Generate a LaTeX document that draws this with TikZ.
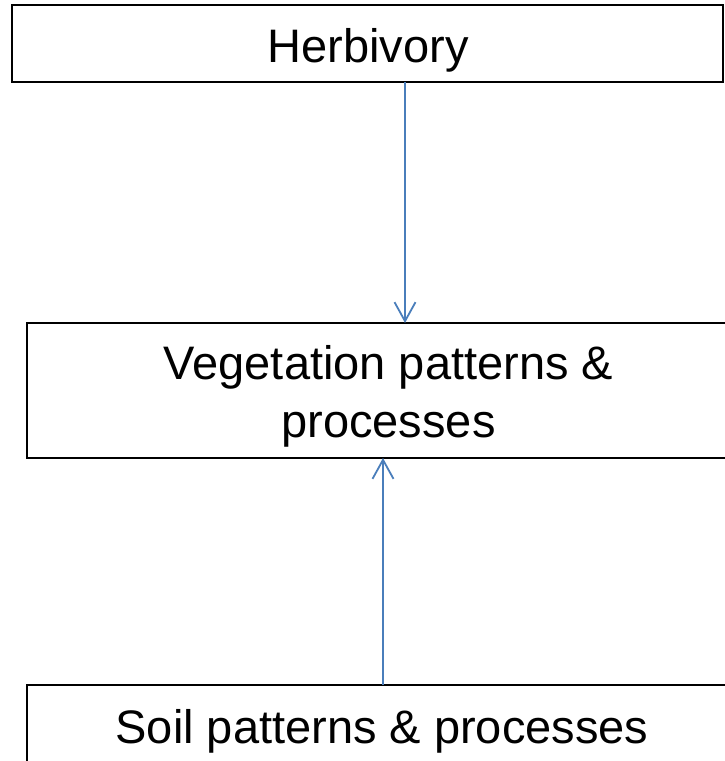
\documentclass[tikz,border=0pt]{standalone}
\usepackage{fontspec}
\setmainfont{Liberation Sans}
\usetikzlibrary{arrows.meta}
\definecolor{arrowblue}{HTML}{4A7EBB}
\begin{document}
\begin{tikzpicture}[x=1pt,y=-1pt,
  box/.style={draw=black,line width=1.3pt,rectangle,inner sep=0pt,outer sep=0pt},
  lbl/.style={inner sep=0pt,outer sep=0pt,anchor=base,font=\fontsize{47}{58}\selectfont},
  arr/.style={draw=arrowblue,line width=1.8pt,-{Straight Barb[length=19pt,width=21pt,line width=1.8pt]}}]
\useasboundingbox (0,0) rectangle (724,761);
\node[box,minimum width=711pt,minimum height=77pt] (herb) at (367.5,43.5) {};
\node[box,minimum width=723pt,minimum height=135pt] (veg) at (388.5,390.5) {};
\node[box,minimum width=710pt,minimum height=80pt] (soil) at (382,725) {};
\node[lbl] (herbt) at (368,62) {Herbivory};
\node[lbl] (vegt1) at (388.5,379) {Vegetation patterns \&};
\node[lbl] (vegt2) at (388.5,437) {processes};
\node[lbl] (soilt) at (382,743) {Soil patterns \& processes};
\draw[arr] ([xshift=37.5pt]herb.south) -- ([xshift=16.5pt]veg.north);
\draw[arr] ([xshift=1pt]soil.north) -- ([xshift=-5.5pt]veg.south);
\end{tikzpicture}
\end{document}
